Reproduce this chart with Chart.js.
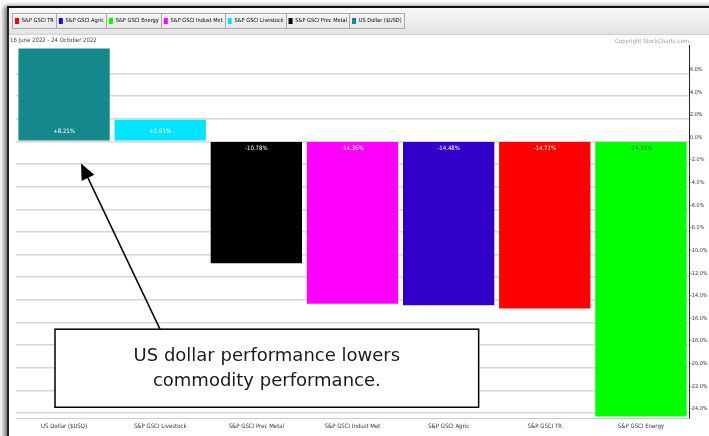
<!DOCTYPE html>
<html>
<head>
<meta charset="utf-8">
<script src="https://cdn.jsdelivr.net/npm/chart.js@4.4.1/dist/chart.umd.min.js"></script>
<style>
  html, body { margin: 0; padding: 0; background: #fff; overflow: hidden; }
  .frame { position: absolute; left: 7px; top: 6px; width: 740px; height: 460px;
           border-top: 2px solid #111; border-left: 2px solid #222;
           box-shadow: -3px 0 5px rgba(0,0,0,0.55); }
  .wrap { position: absolute; left: 0; top: 0; width: 709px; height: 436px; }
</style>
</head>
<body>
<div class="frame"></div>
<div class="wrap"><canvas id="perfChart" width="709" height="436"></canvas></div>
<script>
//---------- PerfChart: 16 June 2022 - 24 October 2022 ----------

var categories = ["US Dollar ($USD)", "S&P GSCI Livestock", "S&P GSCI Prec Metal", "S&P GSCI Indust Met",
                  "S&P GSCI Agric", "S&P GSCI TR", "S&P GSCI Energy"];
var changes = [8.21, 1.91, -10.78, -14.36, -14.48, -14.77, -24.31];
var barColors = ["#15888c", "#00e5ff", "#000000", "#ff00ff", "#3100c9", "#ff0000", "#00ff00"];
var legendNames = ["S&P GSCI TR", "S&P GSCI Agric", "S&P GSCI Energy", "S&P GSCI Indust Met",
                   "S&P GSCI Livestock", "S&P GSCI Prec Metal", "US Dollar ($USD)"];
var yTicks = [6, 4, 2, 0, -2, -4, -6, -8, -10, -12, -14, -16, -18, -20, -22, -24];
var dateRange = "16 June 2022 - 24 October 2022";
var copyright = "Copyright StockCharts.com";
var noteLines = ["US dollar performance lowers", "commodity performance."];

var smallFont = "'DejaVu Sans Condensed', 'Liberation Sans Narrow', 'Liberation Sans', Arial, sans-serif";

function colorOf(name){
	return barColors[categories.indexOf(name)];
}
function pct(v){
	return (v > 0 ? "+" : "") + v.toFixed(2) + "%";
}

// header strip + legend boxes, copyright, value labels, callout
var decorations = {
	id: 'decorations',
	beforeDraw: function(chart){
		var ctx = chart.ctx;
		ctx.save();
		var bottom = chart.titleBlock.top + 1;
		var g = ctx.createLinearGradient(0, 9, 0, bottom);
		g.addColorStop(0, '#f8f8f8');
		g.addColorStop(1, '#e2e2e2');
		ctx.fillStyle = g;
		ctx.fillRect(9, 8, chart.width, bottom - 8);
		ctx.strokeStyle = '#cfcfcf';
		ctx.lineWidth = 1;
		ctx.beginPath();
		ctx.moveTo(9, bottom - 0.5);
		ctx.lineTo(chart.width, bottom - 0.5);
		ctx.stroke();
		ctx.restore();
	},
	afterDraw: function(chart){
		var ctx = chart.ctx, lg = chart.legend, area = chart.chartArea;
		var xs = chart.scales.x, ys = chart.scales.y;
		ctx.save();
		// item boxes
		ctx.strokeStyle = '#a9a9a9';
		ctx.lineWidth = 1;
		lg.legendHitBoxes.forEach(function(b){
			ctx.strokeRect(Math.round(b.left) - 2.5, Math.round(b.top) - 4.5, Math.round(b.width) + 5, Math.round(b.height) + 9);
		});
		// copyright
		ctx.font = "6px " + smallFont;
		ctx.fillStyle = '#9a9a9a';
		ctx.textAlign = 'right';
		ctx.textBaseline = 'middle';
		ctx.fillText(copyright, area.right, chart.titleBlock.top + chart.titleBlock.height / 2 + 2);

		// value labels at the zero end of each bar
		var meta = chart.getDatasetMeta(0);
		ctx.font = "6px " + smallFont;
		ctx.textAlign = 'center';
		meta.data.forEach(function(bar, i){
			var v = changes[i];
			ctx.fillStyle = barColors[i] === '#00ff00' ? '#2a6e2a' : '#ffffff';
			ctx.fillText(pct(v), bar.x, v > 0 ? bar.base - 9 : bar.base + 6);
		});

		// callout box + arrow
		var bx0 = area.left + 39, bx1 = xs.getPixelForValue(4) + 30;
		var by0 = ys.getPixelForValue(-16.6), by1 = ys.getPixelForValue(-23.5);
		var tipX = xs.getPixelForValue(0) + 17, tipY = ys.getPixelForValue(-1.95);
		var tailX = bx0 + 105, tailY = by0;
		ctx.strokeStyle = '#000';
		ctx.lineWidth = 1.5;
		ctx.fillStyle = '#fff';
		ctx.fillRect(bx0, by0, bx1 - bx0, by1 - by0);
		ctx.strokeRect(bx0, by0, bx1 - bx0, by1 - by0);
		var ang = Math.atan2(tipY - tailY, tipX - tailX);
		var hl = 16, hw = 7;
		var baseX = tipX - hl * Math.cos(ang), baseY = tipY - hl * Math.sin(ang);
		ctx.beginPath();
		ctx.moveTo(tailX, tailY);
		ctx.lineTo(baseX, baseY);
		ctx.stroke();
		ctx.fillStyle = '#000';
		ctx.beginPath();
		ctx.moveTo(tipX, tipY);
		ctx.lineTo(baseX + hw * Math.sin(ang), baseY - hw * Math.cos(ang));
		ctx.lineTo(baseX - hw * Math.sin(ang), baseY + hw * Math.cos(ang));
		ctx.closePath();
		ctx.fill();
		ctx.font = "18px 'DejaVu Sans', Verdana, sans-serif";
		ctx.fillStyle = '#1a1a1a';
		ctx.textAlign = 'center';
		var cx = (bx0 + bx1) / 2, cy = (by0 + by1) / 2;
		ctx.fillText(noteLines[0], cx, cy - 12);
		ctx.fillText(noteLines[1], cx, cy + 13);
		ctx.restore();
	}
};

var ctx = document.getElementById("perfChart").getContext('2d');
var myChart = new Chart(ctx, {
	type: 'bar',
	data: {
		labels: categories,
		datasets: [
			{
				data: changes,
				xAxisID: 'x',
				yAxisID: 'y',
				backgroundColor: barColors,
				borderWidth: 0,
				barPercentage: 0.95,
				categoryPercentage: 1.0
			}
		]
	},
	options: {
		responsive: false,
		animation: false,
		layout: { padding: { top: 13, left: 10, right: 0, bottom: 0 } },
		plugins: {
			legend: {
				display: true,
				position: 'top',
				align: 'start',
				weight: 3000,
				onClick: null,
				labels: {
					boxWidth: 4,
					boxHeight: 6,
					padding: 5,
					color: '#333',
					font: { size: 5.6, family: smallFont },
					generateLabels: function(){
						return legendNames.map(function(n, i){
							return { text: n, fillStyle: colorOf(n), strokeStyle: colorOf(n), lineWidth: 0, hidden: false, index: i };
						});
					}
				}
			},
			title: {
				display: true,
				text: dateRange,
				align: 'start',
				weight: 500,
				color: '#444',
				font: { size: 6, weight: 'normal', family: smallFont },
				padding: { top: 3, bottom: 1 }
			},
			tooltip: { enabled: false }
		},
		scales: {
			x: {
				grid: { display: false, drawTicks: false },
				border: { display: true, color: '#cccccc', width: 1 },
				ticks: { color: '#333', font: { size: 6, family: smallFont }, padding: 5, maxRotation: 0 },
				afterFit: function(s){ s.height = 18; }
			},
			gap: {
				type: 'linear',
				position: 'left',
				display: true,
				min: 0,
				max: 1,
				grid: { display: false, drawTicks: false },
				border: { display: false },
				ticks: { display: false },
				afterFit: function(s){ s.width = 6; }
			},
			y: {
				position: 'right',
				min: -24.45,
				max: 8.5,
				afterBuildTicks: function(s){ s.ticks = yTicks.map(function(v){ return { value: v }; }); },
				afterFit: function(s){ s.width = 20; },
				grid: { color: '#d6d6d6', lineWidth: 1.5, drawTicks: false },
				border: { display: true, color: '#222', width: 1 },
				ticks: {
					color: '#333',
					padding: 1,
					labelOffset: -4,
					font: { size: 5.5, family: smallFont },
					callback: function(v){ return v.toFixed(1) + "%"; }
				}
			}
		}
	},
	plugins: [decorations]
});
</script>
</body>
</html>
